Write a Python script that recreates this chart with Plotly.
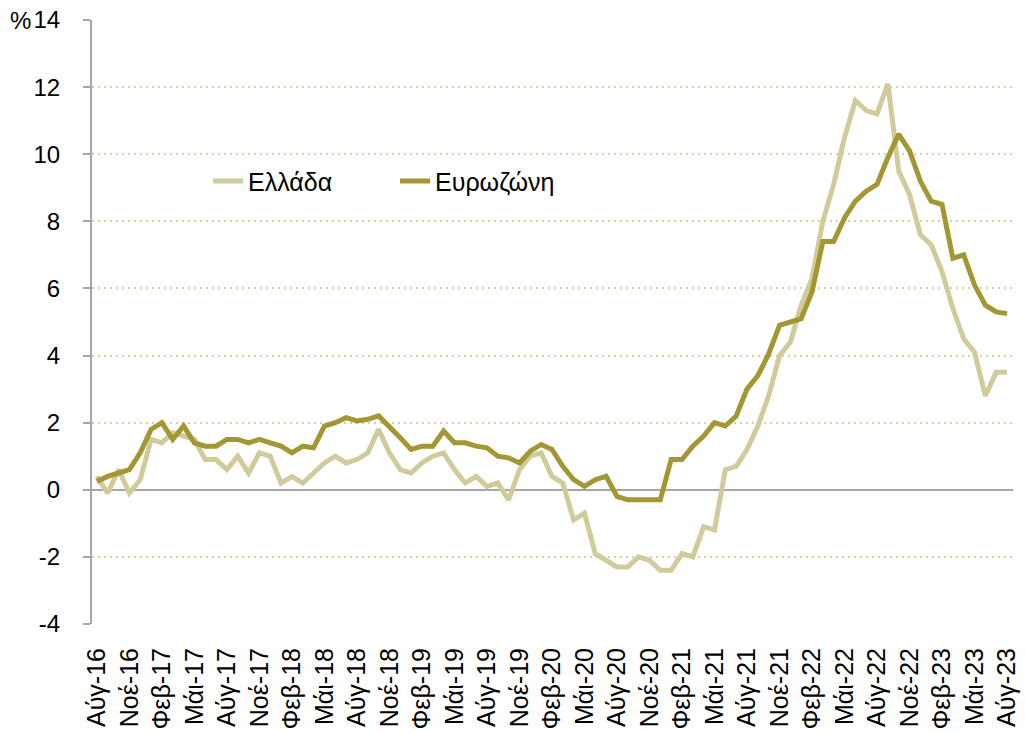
import plotly.graph_objects as go

# Monthly HICP inflation (%), Aug-2016 .. Aug-2023
greece = [0.4, -0.1, 0.6, -0.1, 0.3,
          1.5, 1.4, 1.7, 1.6, 1.5, 0.9, 0.9, 0.6, 1.0, 0.5, 1.1, 1.0,
          0.2, 0.4, 0.2, 0.5, 0.8, 1.0, 0.8, 0.9, 1.1, 1.8, 1.1, 0.6,
          0.5, 0.8, 1.0, 1.1, 0.6, 0.2, 0.4, 0.1, 0.2, -0.3, 0.6, 1.0,
          1.1, 0.4, 0.2, -0.9, -0.7, -1.9, -2.1, -2.3, -2.3, -2.0, -2.1, -2.4,
          -2.4, -1.9, -2.0, -1.1, -1.2, 0.6, 0.7, 1.2, 1.9, 2.8, 4.0, 4.4,
          5.5, 6.3, 8.0, 9.1, 10.5, 11.6, 11.3, 11.2, 12.1, 9.5, 8.8, 7.6,
          7.3, 6.5, 5.4, 4.5, 4.1, 2.8, 3.5, 3.5]

eurozone = [0.25, 0.4, 0.5, 0.6, 1.1,
            1.8, 2.0, 1.5, 1.9, 1.4, 1.3, 1.3, 1.5, 1.5, 1.4, 1.5, 1.4,
            1.3, 1.1, 1.3, 1.25, 1.9, 2.0, 2.15, 2.05, 2.1, 2.2, 1.9, 1.55,
            1.2, 1.3, 1.3, 1.75, 1.4, 1.4, 1.3, 1.25, 1.0, 0.95, 0.8, 1.15,
            1.35, 1.2, 0.7, 0.3, 0.1, 0.3, 0.4, -0.2, -0.3, -0.3, -0.3, -0.3,
            0.9, 0.9, 1.3, 1.6, 2.0, 1.9, 2.2, 3.0, 3.4, 4.05, 4.9, 5.0,
            5.1, 5.9, 7.4, 7.4, 8.1, 8.6, 8.9, 9.1, 9.9, 10.6, 10.1, 9.2,
            8.6, 8.5, 6.9, 7.0, 6.1, 5.5, 5.3, 5.25]

tick_labels = ["Αύγ-16", "Νοέ-16", "Φεβ-17", "Μάι-17", "Αύγ-17", "Νοέ-17",
               "Φεβ-18", "Μάι-18", "Αύγ-18", "Νοέ-18", "Φεβ-19", "Μάι-19",
               "Αύγ-19", "Νοέ-19", "Φεβ-20", "Μάι-20", "Αύγ-20", "Νοέ-20",
               "Φεβ-21", "Μάι-21", "Αύγ-21", "Νοέ-21", "Φεβ-22", "Μάι-22",
               "Αύγ-22", "Νοέ-22", "Φεβ-23", "Μάι-23", "Αύγ-23"]

y_tick_vals = [-4, -2, 0, 2, 4, 6, 8, 10, 12, 14]
y_tick_text = ["-4", "-2", "0", "2", "4", "6", "8", "10", "12", "14"]

x = list(range(len(greece)))
tick_vals = x[::3]

GR_COLOR = "#D0CB9B"
EZ_COLOR = "#A39733"
FONT = "Liberation Sans"

fig = go.Figure()
fig.add_trace(go.Scatter(x=x, y=greece, mode="lines", name="Ελλάδα",
                         line=dict(color=GR_COLOR, width=5)))
fig.add_trace(go.Scatter(x=x, y=eurozone, mode="lines", name="Ευρωζώνη",
                         line=dict(color=EZ_COLOR, width=5)))

fig.update_layout(
    width=1025, height=733,
    margin=dict(l=92, r=12, t=20, b=109, autoexpand=False),
    paper_bgcolor="white", plot_bgcolor="white",
    font=dict(family=FONT, size=20, color="black"),
    showlegend=True,
    legend=dict(orientation="h", x=0.126, y=0.733, xanchor="left", yanchor="middle",
                entrywidth=142, entrywidthmode="pixels",
                font=dict(family=FONT, size=25), bgcolor="rgba(0,0,0,0)"),
    xaxis=dict(range=[-0.45, 84.55], tickmode="array", tickvals=tick_vals,
               ticktext=tick_labels, tickangle=-90, showgrid=False,
               zeroline=False, showline=False, ticks="", automargin=False,
               ticklabelstandoff=18, ticklabeloverflow="allow",
               tickfont=dict(family=FONT, size=25)),
    yaxis=dict(range=[-4, 14], tickmode="array", tickvals=y_tick_vals,
               ticktext=y_tick_text, showgrid=True, gridcolor="#D6D19F",
               griddash="2px,4px", gridwidth=2, automargin=False,
               zeroline=True, zerolinecolor="#A6A6A6", zerolinewidth=2,
               showline=True, linecolor="#A6A6A6", linewidth=2,
               ticks="outside", ticklen=7, tickwidth=2, tickcolor="#A6A6A6",
               ticklabelstandoff=18, ticklabeloverflow="allow",
               tickfont=dict(family=FONT, size=24)),
)

fig.add_annotation(text="%", xref="paper", yref="paper", x=-0.064, y=1.0,
                   xanchor="right", yanchor="middle", showarrow=False,
                   font=dict(family=FONT, size=24))

# remove the browser's default 8px body margin so the 1025x733 figure fills the window
fig.write_html("out.html",
               config={"displayModeBar": False},
               post_script="document.body.style.margin='0px';")
